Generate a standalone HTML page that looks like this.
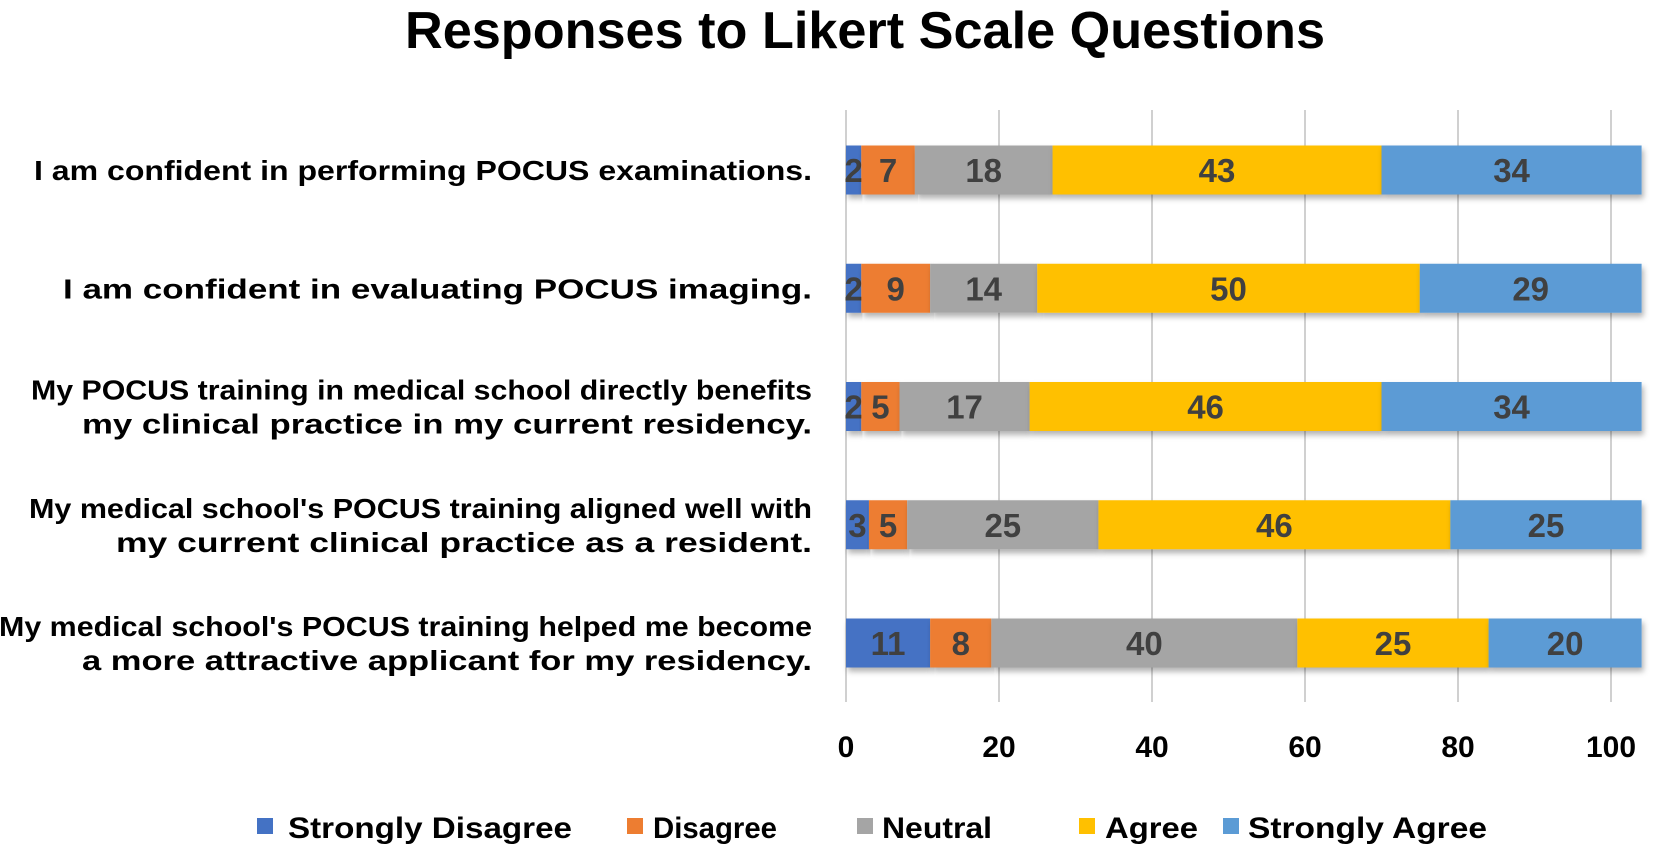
<!DOCTYPE html>
<html><head><meta charset="utf-8">
<style>
html,body{margin:0;padding:0;background:#fff;}
svg{display:block;font-family:"Liberation Sans",sans-serif;}
</style></head>
<body>
<svg id="chart" width="1659" height="852" viewBox="0 0 1659 852" xmlns="http://www.w3.org/2000/svg">
<defs>
<filter id="sh" x="-5%" y="-20%" width="110%" height="150%"><feDropShadow dx="2" dy="4" stdDeviation="3" flood-color="#000" flood-opacity="0.3"/></filter>
</defs>
<text x="865" y="48" text-anchor="middle" font-size="52" font-weight="bold" fill="#000" textLength="920" lengthAdjust="spacingAndGlyphs">Responses to Likert Scale Questions</text>
<g id="grid"></g>
<g id="bars"></g>
<g id="cats"></g>
<g id="ticks"></g>
<g id="legend"></g>
</svg>
<script>
const categories = [
  ["I am confident in performing POCUS examinations."],
  ["I am confident in evaluating POCUS imaging."],
  ["My POCUS training in medical school directly benefits","my clinical practice in my current residency."],
  ["My medical school's POCUS training aligned well with","my current clinical practice as a resident."],
  ["My medical school's POCUS training helped me become","a more attractive applicant for my residency."]
];
const seriesNames = ["Strongly Disagree","Disagree","Neutral","Agree","Strongly Agree"];
const stronglyDisagree = [2,2,2,3,11];
const disagree = [7,9,5,5,8];
const neutral = [18,14,17,25,40];
const agree = [43,50,46,46,25];
const stronglyAgree = [34,29,34,25,20];
const tickValues = [0,20,40,60,80,100];

const series = [stronglyDisagree, disagree, neutral, agree, stronglyAgree];
const colors = ["#4472C4","#ED7D31","#A5A5A5","#FFC000","#5B9BD5"];
const catWidths = [[778],[749],[781,730],[783,696],[813,730]];
const NS = "http://www.w3.org/2000/svg";
const x0 = 846, pxPerUnit = 7.65;
const xScale = v => x0 + v * pxPerUnit;
const yTop = 170, yStep = 118.25, barH = 49;
const yScale = i => yTop + i * yStep;
function mk(tag, attrs, parent){const e=document.createElementNS(NS,tag);for(const k in attrs)e.setAttribute(k,attrs[k]);parent.appendChild(e);return e;}

const grid = document.getElementById('grid');
const ticks = document.getElementById('ticks');
tickValues.forEach(t=>{
  const l = mk('line',{x1:xScale(t),x2:xScale(t),y1:110,y2:702,stroke:'#d0d0d0','stroke-width':2},grid);
  
  
  const tx = mk('text',{x:xScale(t),y:757,'text-anchor':'middle','font-size':30,'font-weight':'bold',fill:'#000'},ticks);
  tx.textContent = t;
  
  
});

const bars = document.getElementById('bars');
const cats = document.getElementById('cats');
categories.forEach((c,i)=>{
  let cum = 0;
  const cy = yScale(i);
  series.forEach((s,j)=>{
    const v = s[i];
    const r = mk('rect',{x:xScale(cum),y:cy-barH/2,width:v*pxPerUnit,height:barH,fill:colors[j],filter:'url(#sh)'},bars);
    
    
    const lt = mk('text',{x:xScale(cum+v/2),y:cy+12,'text-anchor':'middle','font-size':33,'font-weight':'bold',fill:'#404040'},bars);
    lt.textContent = v;
    
    
    cum += v;
  });
  const n = c.length;
  c.forEach((line,k)=>{
    const y = cy + 10 + (k - (n-1)/2) * 34;
    const t = mk('text',{x:812,y:y,'text-anchor':'end','font-size':28,'font-weight':'bold',fill:'#000',textLength:catWidths[i][k],lengthAdjust:'spacingAndGlyphs'},cats);
    t.textContent = line;
    
    
  });
});

const legend = document.getElementById('legend');
const legSq = [257,627,857,1079,1223];
const legTx = [288,653,882,1105,1248];
const legW = [284,124,110,93,239];
seriesNames.forEach((nm,j)=>{
  const g = mk('g',{},legend);
  
  
  mk('rect',{x:legSq[j],y:818,width:16,height:16,fill:colors[j]},g);
  const t = mk('text',{x:legTx[j],y:838,'font-size':30,'font-weight':'bold',fill:'#000',textLength:legW[j],lengthAdjust:'spacingAndGlyphs'},g);
  t.textContent = nm;
});
</script>
</body></html>
